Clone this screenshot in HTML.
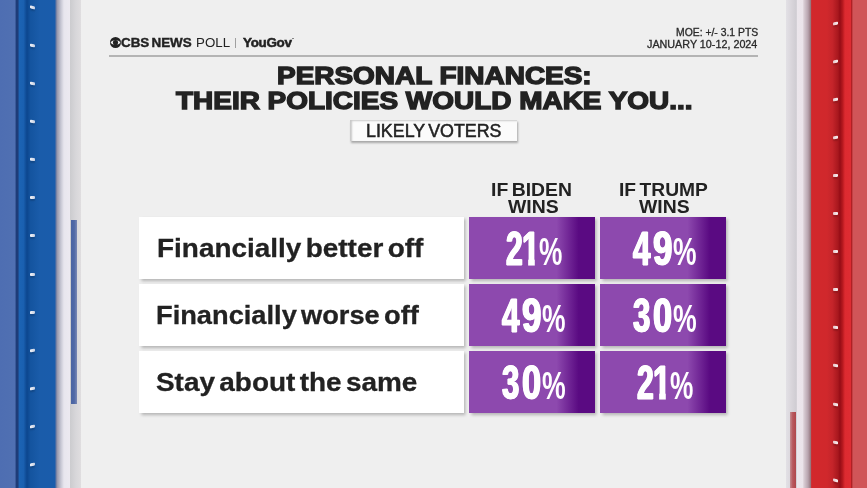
<!DOCTYPE html>
<html lang="en">
<head>
<meta charset="utf-8">
<title>CBS News Poll - Personal Finances</title>
<style>
html,body{margin:0;padding:0;}
body{width:867px;height:488px;overflow:hidden;background:#efefef;font-family:"Liberation Sans",sans-serif;color:#222;}
#stage{position:relative;width:867px;height:488px;overflow:hidden;background:#efefef;}
.abs{position:absolute;}
.t{position:absolute;white-space:nowrap;line-height:1;transform-origin:0 0;}
#lbar{left:0;top:0;width:82px;height:488px;background:linear-gradient(90deg,#4e6eb2 0,#5070b2 15.2px,#1e3c78 15.9px,#1e3c78 18.2px,#1c64b4 18.9px,#1a60b0 23.5px,#0c468e 27px,#14549f 30.5px,#1a5caa 40px,#1a5cab 55px,#6a78a0 56px,#9c9cb0 57.5px,#c8c8d4 61px,#e8e6ee 64px,#ece9f0 69.8px,#cccccf 70.3px,#d8d7da 76px,#dfdddf 80.8px,#efefef 81.3px);}
#rbar{left:785px;top:0;width:82px;height:488px;background:linear-gradient(90deg,#efefef 0.8px,#e2e0e5 1.3px,#dad6dc 6px,#cfccd2 11.4px,#ece6ec 11.9px,#ebe4ea 17.5px,#d8ccd3 19px,#b8a4ae 23px,#96787f 25.6px,#d2282c 26.6px,#d0282c 42px,#c4242a 47.5px,#a8181e 53px,#960c16 55px,#b4181e 57.5px,#dc2a30 60px,#de2c32 65.5px,#b02024 66px,#b02024 67px,#d05558 67.8px,#d05558 82px);}
.tick{position:absolute;width:5.2px;height:3.2px;border-radius:1px;box-shadow:0 2px 1.5px rgba(0,0,0,.16);}
.tl{background:linear-gradient(90deg,#f4f6fb,#c4cde0);}
.tr{background:linear-gradient(90deg,#e6c4c8,#fbf4f5);}
#lstrip{left:71.2px;top:219.6px;width:5.4px;height:184.5px;background:linear-gradient(90deg,#4a64a3,#5069a6 55%,#7a88b4);}
#rstrip{left:790.3px;top:412.4px;width:6.1px;height:76px;background:linear-gradient(90deg,#c48c92,#b8585e 45%,#b0474c);}
#hline{left:109px;top:54.8px;width:649px;height:2px;background:#b4b4b4;}
#logo{left:109.6px;top:36.5px;}
#vbar{left:235px;top:38px;width:1px;height:9.5px;background:#a0a0a0;}
#lv{left:349.6px;top:120.2px;width:167.6px;height:20.6px;background:#fbfbfb;box-shadow:inset 2px 1px 2px rgba(0,0,0,.2),0.5px 1.5px 2px rgba(0,0,0,.3);}
.row{left:138.8px;width:325.3px;height:61.8px;background:#fff;box-shadow:1.5px 2px 3px rgba(0,0,0,.25);}
.pb{width:126.4px;height:61.8px;background:linear-gradient(90deg,#8d49ae 0,#8d49ae 69.5%,#5a0a82 87%,#5a0a82 100%);box-shadow:1.5px 2px 3px rgba(0,0,0,.25);}
.num{font-weight:bold;font-size:100px;color:#fff;-webkit-text-stroke:1.6px #fff;text-shadow:2.2px 0 0 #fff,-2.2px 0 0 #fff;}
.pct{font-weight:bold;font-size:100px;color:#fff;}
#regdot{left:292.4px;top:37.6px;width:1.2px;height:1.2px;border-radius:50%;background:#777;}
.cell{left:0;top:0;width:0;height:0;}

</style>
</head>
<body>
<div id="stage">
  <div id="lbar" class="abs"></div>
  <div id="rbar" class="abs"></div>
  <div class="tick tl" style="left:29.8px;top:5.8px;transform:skewY(13.6deg)"></div>
  <div class="tick tl" style="left:29.8px;top:43.9px;transform:skewY(11.4deg)"></div>
  <div class="tick tl" style="left:29.8px;top:82.0px;transform:skewY(9.2deg)"></div>
  <div class="tick tl" style="left:29.8px;top:120.1px;transform:skewY(7.0deg)"></div>
  <div class="tick tl" style="left:29.8px;top:158.2px;transform:skewY(4.8deg)"></div>
  <div class="tick tl" style="left:29.8px;top:196.3px;transform:skewY(2.6deg)"></div>
  <div class="tick tl" style="left:29.8px;top:234.4px;transform:skewY(0.5deg)"></div>
  <div class="tick tl" style="left:29.8px;top:272.5px;transform:skewY(-1.7deg)"></div>
  <div class="tick tl" style="left:29.8px;top:310.6px;transform:skewY(-3.9deg)"></div>
  <div class="tick tl" style="left:29.8px;top:348.7px;transform:skewY(-6.1deg)"></div>
  <div class="tick tl" style="left:29.8px;top:386.8px;transform:skewY(-8.3deg)"></div>
  <div class="tick tl" style="left:29.8px;top:424.9px;transform:skewY(-10.5deg)"></div>
  <div class="tick tl" style="left:29.8px;top:463.0px;transform:skewY(-12.7deg)"></div>
  <div class="tick tr" style="left:833px;top:21.5px;transform:skewY(-12.7deg)"></div>
  <div class="tick tr" style="left:833px;top:59.6px;transform:skewY(-10.5deg)"></div>
  <div class="tick tr" style="left:833px;top:97.7px;transform:skewY(-8.3deg)"></div>
  <div class="tick tr" style="left:833px;top:135.8px;transform:skewY(-6.1deg)"></div>
  <div class="tick tr" style="left:833px;top:173.9px;transform:skewY(-3.9deg)"></div>
  <div class="tick tr" style="left:833px;top:212.0px;transform:skewY(-1.7deg)"></div>
  <div class="tick tr" style="left:833px;top:250.1px;transform:skewY(0.4deg)"></div>
  <div class="tick tr" style="left:833px;top:288.2px;transform:skewY(2.6deg)"></div>
  <div class="tick tr" style="left:833px;top:326.3px;transform:skewY(4.8deg)"></div>
  <div class="tick tr" style="left:833px;top:364.4px;transform:skewY(7.0deg)"></div>
  <div class="tick tr" style="left:833px;top:402.5px;transform:skewY(9.2deg)"></div>
  <div class="tick tr" style="left:833px;top:440.6px;transform:skewY(11.4deg)"></div>
  <div class="tick tr" style="left:833px;top:478.7px;transform:skewY(13.6deg)"></div>
  <div id="lstrip" class="abs"></div><div id="rstrip" class="abs"></div>
  <div id="hline" class="abs"></div>
  <svg id="logo" class="abs" width="11" height="11" viewBox="0 0 24 24"><circle cx="12" cy="12" r="12" fill="#222"/><path d="M1.2 12 C5 5.4 19 5.4 22.8 12 C19 18.6 5 18.6 1.2 12 Z" fill="#efefef"/><circle cx="12" cy="12" r="5.6" fill="#222"/></svg>
  <div class="abs" id="vbar"></div>
  <div class="abs" id="regdot"></div>
  <div id="lv" class="abs"></div>
  <div class="abs row" style="top:217.0px"></div><div class="abs pb" style="left:468.7px;top:217.0px"></div><div class="abs pb" style="left:599.9px;top:217.0px"></div>
  <div class="abs row" style="top:284.0px"></div><div class="abs pb" style="left:468.7px;top:284.0px"></div><div class="abs pb" style="left:599.9px;top:284.0px"></div>
  <div class="abs row" style="top:351.0px"></div><div class="abs pb" style="left:468.7px;top:351.0px"></div><div class="abs pb" style="left:599.9px;top:351.0px"></div>
  <div class="t" id="h1" style="left:121.04px;top:36.75px;font-size:12.80px;font-weight:bold;word-spacing:-1.5px;-webkit-text-stroke:0.4px #222;color:#222;transform:scaleX(1.0478)">CBS NEWS</div>
  <div class="t" id="h2" style="left:195.79px;top:35.58px;font-size:13.24px;color:#222;transform:scaleX(1.0062)">POLL</div>
  <div class="t" id="h3" style="left:242.70px;top:36.80px;font-size:12.80px;font-weight:bold;letter-spacing:-0.3px;-webkit-text-stroke:0.5px #222;color:#222;transform:scaleX(1.0503)">YouGov</div>
  <div class="t" id="m1" style="left:675.63px;top:28.00px;font-size:10.18px;-webkit-text-stroke:0.3px #2a2a2a;color:#2a2a2a;transform:scaleX(1.0201)">MOE: +/- 3.1 PTS</div>
  <div class="t" id="m2" style="left:647.40px;top:40.00px;font-size:10.18px;-webkit-text-stroke:0.3px #2a2a2a;color:#2a2a2a;transform:scaleX(1.0587)">JANUARY 10-12, 2024</div>
  <div class="t" id="t1" style="left:277.05px;top:63.50px;font-size:24.29px;font-weight:bold;-webkit-text-stroke:1.4px #222;color:#222;transform:scaleX(1.1509)">PERSONAL FINANCES:</div>
  <div class="t" id="t2" style="left:175.97px;top:89.25px;font-size:24.58px;font-weight:bold;-webkit-text-stroke:1.4px #222;color:#222;transform:scaleX(1.1372)">THEIR POLICIES WOULD MAKE YOU...</div>
  <div class="t" id="lvt" style="left:365.82px;top:122.89px;font-size:17.45px;word-spacing:-1.6px;-webkit-text-stroke:0.5px #222;color:#222;transform:scaleX(1.0226)">LIKELY VOTERS</div>
  <div class="t" id="c1a" style="left:491.39px;top:181.28px;font-size:18.47px;font-weight:bold;word-spacing:-1.8px;color:#222;transform:scaleX(1.0488)">IF BIDEN</div>
  <div class="t" id="c1b" style="left:507.70px;top:198.21px;font-size:18.33px;font-weight:bold;color:#222;transform:scaleX(1.0596)">WINS</div>
  <div class="t" id="c2a" style="left:618.70px;top:181.28px;font-size:18.47px;font-weight:bold;word-spacing:-1.8px;color:#222;transform:scaleX(1.0419)">IF TRUMP</div>
  <div class="t" id="c2b" style="left:638.50px;top:198.21px;font-size:18.33px;font-weight:bold;color:#222;transform:scaleX(1.0574)">WINS</div>
  <div class="t" id="r0" style="left:157.00px;top:235.26px;font-size:26.18px;font-weight:bold;word-spacing:-3.2px;-webkit-text-stroke:0.3px #222;color:#222;transform:scaleX(1.0671)">Financially better off</div>
  <div class="t" id="r1" style="left:156.44px;top:302.06px;font-size:26.18px;font-weight:bold;word-spacing:-3.2px;-webkit-text-stroke:0.3px #222;color:#222;transform:scaleX(1.0408)">Financially worse off</div>
  <div class="t" id="r2" style="left:156.00px;top:368.86px;font-size:26.18px;font-weight:bold;word-spacing:-3.2px;-webkit-text-stroke:0.3px #222;color:#222;transform:scaleX(1.0669)">Stay about the same</div>
  <div class="abs cell"><span class="t num" style="left:505.52px;top:223.61px;transform:scale(0.3010,0.4766)">2</span><span class="t num" style="left:522.01px;top:223.61px;clip-path:polygon(0 0,41px 0,41px 100px,19.5px 100px,19.5px 45px,0 45px);transform:scale(0.3145,0.4766)">1</span><span class="t pct" style="left:538.84px;top:232.04px;transform:scale(0.2627,0.3900)">%</span></div>
  <div class="abs cell"><span class="t num" style="left:633.03px;top:223.61px;transform:scale(0.3121,0.4766)">4</span><span class="t num" style="left:652.86px;top:223.61px;transform:scale(0.3488,0.4766)">9</span><span class="t pct" style="left:673.04px;top:232.04px;transform:scale(0.2651,0.3900)">%</span></div>
  <div class="abs cell"><span class="t num" style="left:501.73px;top:290.61px;transform:scale(0.3121,0.4766)">4</span><span class="t num" style="left:521.56px;top:290.61px;transform:scale(0.3488,0.4766)">9</span><span class="t pct" style="left:541.74px;top:299.04px;transform:scale(0.2651,0.3900)">%</span></div>
  <div class="abs cell"><span class="t num" style="left:632.92px;top:290.61px;transform:scale(0.3111,0.4766)">3</span><span class="t num" style="left:652.90px;top:290.61px;transform:scale(0.3423,0.4766)">0</span><span class="t pct" style="left:673.03px;top:299.04px;transform:scale(0.2663,0.3900)">%</span></div>
  <div class="abs cell"><span class="t num" style="left:501.72px;top:357.61px;transform:scale(0.3111,0.4766)">3</span><span class="t num" style="left:521.70px;top:357.61px;transform:scale(0.3423,0.4766)">0</span><span class="t pct" style="left:541.83px;top:366.04px;transform:scale(0.2663,0.3900)">%</span></div>
  <div class="abs cell"><span class="t num" style="left:636.72px;top:357.61px;transform:scale(0.3010,0.4766)">2</span><span class="t num" style="left:653.21px;top:357.61px;clip-path:polygon(0 0,41px 0,41px 100px,19.5px 100px,19.5px 45px,0 45px);transform:scale(0.3145,0.4766)">1</span><span class="t pct" style="left:670.04px;top:366.04px;transform:scale(0.2627,0.3900)">%</span></div>
</div>
</body>
</html>
